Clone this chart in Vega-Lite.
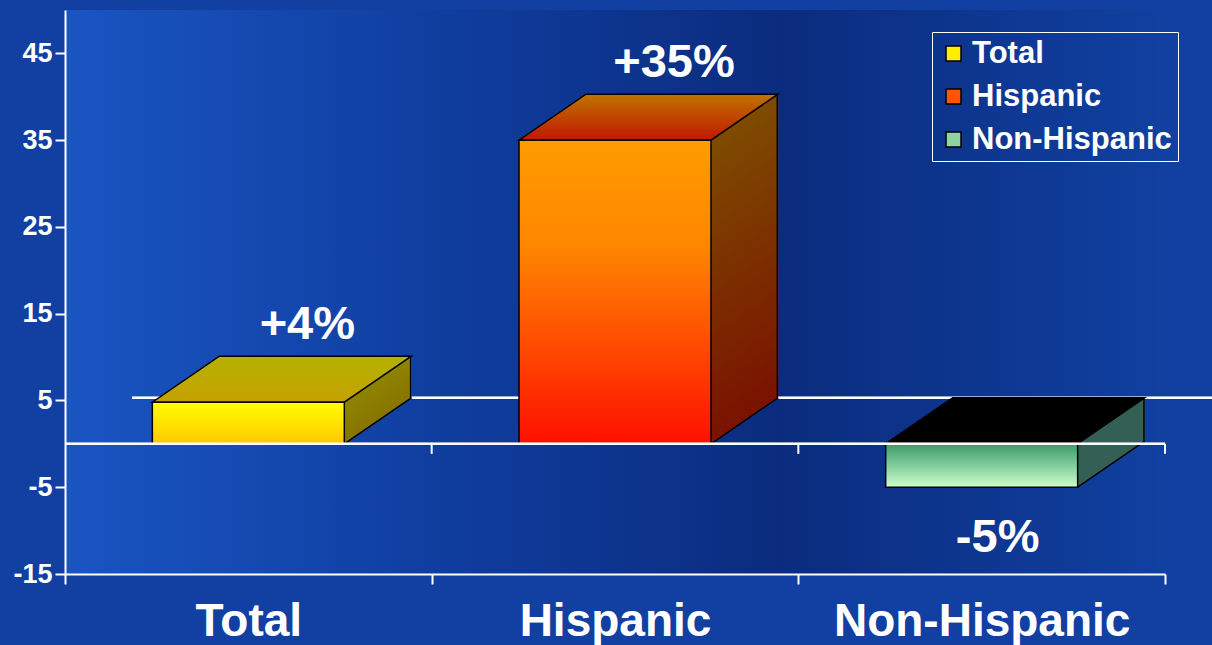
{
  "$schema": "https://vega.github.io/schema/vega-lite/v6.json",
  "width": 1100,
  "height": 564,
  "autosize": {"type": "none"},
  "padding": {"left": 65, "top": 10, "right": 47, "bottom": 71},
  "background": "#113fa2",
  "data": {
    "values": [
      {"group": "Total", "value": 4.8, "label": "+4%"},
      {"group": "Hispanic", "value": 35, "label": "+35%"},
      {"group": "Non-Hispanic", "value": -5, "label": "-5%"}
    ]
  },
  "layer": [
    {
      "mark": {"type": "rule", "color": "white", "strokeWidth": 2, "xOffset": 67, "x2Offset": 67, "yOffset": -46},
      "encoding": {
        "x": {"datum": "Total", "type": "nominal", "bandPosition": 0, "sort": ["Total", "Hispanic", "Non-Hispanic"], "scale": {"paddingInner": 0, "paddingOuter": 0}},
        "x2": {"datum": "Non-Hispanic", "bandPosition": 1},
        "y": {"datum": 0, "type": "quantitative", "scale": {"domain": [-15, 50], "nice": false, "zero": false}}
      }
    },
    {
      "encoding": {
        "x": {"field": "group", "type": "nominal", "sort": ["Total", "Hispanic", "Non-Hispanic"], "scale": {"paddingInner": 0, "paddingOuter": 0}},
        "y": {"field": "value", "type": "quantitative", "scale": {"domain": [-15, 50], "nice": false, "zero": false}},
        "y2": {"datum": 0},
        "fill": {
          "condition": [
            {"test": "datum.group === 'Total'", "value": {"gradient": "linear", "x1": 0, "y1": 0, "x2": 0, "y2": 1, "stops": [{"offset": 0, "color": "#8e8400"}, {"offset": 1, "color": "#877400"}]}},
            {"test": "datum.group === 'Hispanic'", "value": {"gradient": "linear", "x1": 0, "y1": 0, "x2": 0, "y2": 1, "stops": [{"offset": 0, "color": "#7e4b00"}, {"offset": 1, "color": "#7a1200"}]}}
          ],
          "value": "#345f55"
        }
      },
      "layer": [
        {"mark": {"type": "bar", "width": 3.2, "xOffset": 161.7, "yOffset": -45.11, "y2Offset": -45.11}},
        {"mark": {"type": "bar", "width": 3.2, "xOffset": 159.55, "yOffset": -43.63, "y2Offset": -43.63}},
        {"mark": {"type": "bar", "width": 3.2, "xOffset": 157.41, "yOffset": -42.16, "y2Offset": -42.16}},
        {"mark": {"type": "bar", "width": 3.2, "xOffset": 155.26, "yOffset": -40.69, "y2Offset": -40.69}},
        {"mark": {"type": "bar", "width": 3.2, "xOffset": 153.11, "yOffset": -39.21, "y2Offset": -39.21}},
        {"mark": {"type": "bar", "width": 3.2, "xOffset": 150.97, "yOffset": -37.74, "y2Offset": -37.74}},
        {"mark": {"type": "bar", "width": 3.2, "xOffset": 148.82, "yOffset": -36.26, "y2Offset": -36.26}},
        {"mark": {"type": "bar", "width": 3.2, "xOffset": 146.67, "yOffset": -34.79, "y2Offset": -34.79}},
        {"mark": {"type": "bar", "width": 3.2, "xOffset": 144.53, "yOffset": -33.32, "y2Offset": -33.32}},
        {"mark": {"type": "bar", "width": 3.2, "xOffset": 142.38, "yOffset": -31.84, "y2Offset": -31.84}},
        {"mark": {"type": "bar", "width": 3.2, "xOffset": 140.23, "yOffset": -30.37, "y2Offset": -30.37}},
        {"mark": {"type": "bar", "width": 3.2, "xOffset": 138.09, "yOffset": -28.9, "y2Offset": -28.9}},
        {"mark": {"type": "bar", "width": 3.2, "xOffset": 135.94, "yOffset": -27.42, "y2Offset": -27.42}},
        {"mark": {"type": "bar", "width": 3.2, "xOffset": 133.79, "yOffset": -25.95, "y2Offset": -25.95}},
        {"mark": {"type": "bar", "width": 3.2, "xOffset": 131.65, "yOffset": -24.47, "y2Offset": -24.47}},
        {"mark": {"type": "bar", "width": 3.2, "xOffset": 129.5, "yOffset": -23.0, "y2Offset": -23.0}},
        {"mark": {"type": "bar", "width": 3.2, "xOffset": 127.35, "yOffset": -21.53, "y2Offset": -21.53}},
        {"mark": {"type": "bar", "width": 3.2, "xOffset": 125.21, "yOffset": -20.05, "y2Offset": -20.05}},
        {"mark": {"type": "bar", "width": 3.2, "xOffset": 123.06, "yOffset": -18.58, "y2Offset": -18.58}},
        {"mark": {"type": "bar", "width": 3.2, "xOffset": 120.91, "yOffset": -17.1, "y2Offset": -17.1}},
        {"mark": {"type": "bar", "width": 3.2, "xOffset": 118.77, "yOffset": -15.63, "y2Offset": -15.63}},
        {"mark": {"type": "bar", "width": 3.2, "xOffset": 116.62, "yOffset": -14.16, "y2Offset": -14.16}},
        {"mark": {"type": "bar", "width": 3.2, "xOffset": 114.47, "yOffset": -12.68, "y2Offset": -12.68}},
        {"mark": {"type": "bar", "width": 3.2, "xOffset": 112.33, "yOffset": -11.21, "y2Offset": -11.21}},
        {"mark": {"type": "bar", "width": 3.2, "xOffset": 110.18, "yOffset": -9.74, "y2Offset": -9.74}},
        {"mark": {"type": "bar", "width": 3.2, "xOffset": 108.03, "yOffset": -8.26, "y2Offset": -8.26}},
        {"mark": {"type": "bar", "width": 3.2, "xOffset": 105.89, "yOffset": -6.79, "y2Offset": -6.79}},
        {"mark": {"type": "bar", "width": 3.2, "xOffset": 103.74, "yOffset": -5.31, "y2Offset": -5.31}},
        {"mark": {"type": "bar", "width": 3.2, "xOffset": 101.59, "yOffset": -3.84, "y2Offset": -3.84}},
        {"mark": {"type": "bar", "width": 3.2, "xOffset": 99.45, "yOffset": -2.37, "y2Offset": -2.37}},
        {"mark": {"type": "bar", "width": 3.2, "xOffset": 97.3, "yOffset": -0.89, "y2Offset": -0.89}},
        {"mark": {"type": "bar", "width": 1.5, "xOffset": 162.3, "yOffset": -45.6, "y2Offset": -45.6, "fill": "black"}, "encoding": {"fill": {"value": "black"}}}
      ]
    },
    {
      "transform": [{"filter": "datum.value > 0"}],
      "mark": {"type": "point", "shape": "M0.96,0L1.63,-0.46", "size": 40000, "filled": false, "stroke": "black", "strokeWidth": 1.5, "opacity": 1},
      "encoding": {
        "x": {"field": "group", "type": "nominal", "sort": ["Total", "Hispanic", "Non-Hispanic"]},
        "y": {"datum": 0, "type": "quantitative"}
      }
    },
    {
      "transform": [{"filter": "datum.value < 0"}],
      "mark": {"type": "point", "shape": "M0.96,0L1.63,-0.46", "size": 40000, "filled": false, "stroke": "black", "strokeWidth": 1.5, "opacity": 1},
      "encoding": {
        "x": {"field": "group", "type": "nominal", "sort": ["Total", "Hispanic", "Non-Hispanic"]},
        "y": {"field": "value", "type": "quantitative"}
      }
    },
    {
      "transform": [{"filter": "datum.value > 0"}],
      "mark": {"type": "point", "shape": "M-0.96,0L0.96,0L1.63,-0.46L-0.29,-0.46Z", "size": 40000, "filled": true, "stroke": "black", "strokeWidth": 1.5, "opacity": 1, "fillOpacity": 1},
      "encoding": {
        "x": {"field": "group", "type": "nominal", "sort": ["Total", "Hispanic", "Non-Hispanic"]},
        "y": {"field": "value", "type": "quantitative"},
        "fill": {
          "condition": [
            {"test": "datum.group === 'Total'", "value": {"gradient": "linear", "x1": 0, "y1": 0, "x2": 0, "y2": 1, "stops": [{"offset": 0, "color": "#b4b200"}, {"offset": 1, "color": "#c6a000"}]}}
          ],
          "value": {"gradient": "linear", "x1": 0, "y1": 0, "x2": 0, "y2": 1, "stops": [{"offset": 0, "color": "#c07400"}, {"offset": 1, "color": "#c01800"}]}
        }
      }
    },
    {
      "transform": [{"filter": "datum.value < 0"}],
      "mark": {"type": "point", "shape": "M-0.96,0L0.96,0L1.63,-0.46L-0.29,-0.46Z", "size": 40000, "filled": true, "fill": "black", "stroke": "black", "strokeWidth": 1.5, "opacity": 1, "fillOpacity": 1},
      "encoding": {
        "x": {"field": "group", "type": "nominal", "sort": ["Total", "Hispanic", "Non-Hispanic"]},
        "y": {"datum": 0, "type": "quantitative"}
      }
    },
    {
      "mark": {"type": "bar", "width": {"band": 0.5236}},
      "encoding": {
        "x": {
          "field": "group", "type": "nominal", "sort": ["Total", "Hispanic", "Non-Hispanic"],
          "axis": {"title": null, "labelAngle": 0, "labelFontSize": 46, "labelPadding": 37, "labelLimit": 0, "labelAlign": "center", "tickBand": "extent", "labelColor": "white"}
        },
        "y": {
          "field": "value", "type": "quantitative",
          "axis": {"title": null, "values": [-15, -5, 5, 15, 25, 35, 45], "labelExpr": "'' + datum.value", "labelFontSize": 27, "labelPadding": 3}
        },
        "y2": {"datum": 0},
        "fill": {
          "field": "group", "type": "nominal",
          "scale": {"domain": ["Total", "Hispanic", "Non-Hispanic"], "range": ["#ffee00", "#ff5500", "#8fd4a0"]},
          "legend": {
            "orient": "none", "legendX": 867, "legendY": 22, "title": null,
            "strokeColor": "white", "padding": 6,
            "labelFont": "Liberation Sans", "labelFontSize": 31, "labelFontWeight": "bold", "labelColor": "white", "labelLimit": 0,
            "symbolType": "square", "symbolSize": 225, "symbolStrokeColor": "black", "symbolStrokeWidth": 1.5,
            "labelOffset": 3, "rowPadding": 11
          }
        }
      }
    },
    {
      "mark": {"type": "bar", "width": {"band": 0.5236}, "stroke": "black", "strokeWidth": 1.5},
      "encoding": {
        "x": {"field": "group", "type": "nominal", "sort": ["Total", "Hispanic", "Non-Hispanic"]},
        "y": {"field": "value", "type": "quantitative"},
        "y2": {"datum": 0},
        "fill": {
          "condition": [
            {"test": "datum.group === 'Total'", "value": {"gradient": "linear", "x1": 0, "y1": 0, "x2": 0, "y2": 1, "stops": [{"offset": 0, "color": "#ffff00"}, {"offset": 1, "color": "#ffc800"}]}},
            {"test": "datum.group === 'Hispanic'", "value": {"gradient": "linear", "x1": 0, "y1": 0, "x2": 0, "y2": 1, "stops": [{"offset": 0, "color": "#ff9c00"}, {"offset": 0.35, "color": "#ff8600"}, {"offset": 1, "color": "#ff1000"}]}}
          ],
          "value": {"gradient": "linear", "x1": 0, "y1": 0, "x2": 0, "y2": 1, "stops": [{"offset": 0, "color": "#3a9a6a"}, {"offset": 1, "color": "#ccffcc"}]}
        }
      }
    },
    {
      "mark": {"type": "rule", "color": "white", "strokeWidth": 2},
      "encoding": {"y": {"datum": 0, "type": "quantitative"}}
    },
    {
      "mark": {"type": "point", "shape": "M0,0L0,1", "size": 400, "filled": false, "stroke": "white", "strokeWidth": 2, "opacity": 1},
      "encoding": {
        "x": {"field": "group", "type": "nominal", "sort": ["Total", "Hispanic", "Non-Hispanic"], "bandPosition": 1},
        "y": {"datum": 0, "type": "quantitative"}
      }
    },
    {
      "transform": [{"filter": "datum.value > 0"}],
      "mark": {"type": "text", "font": "Liberation Sans", "fontWeight": "bold", "fontSize": 47, "color": "white", "baseline": "alphabetic", "dx": 59, "dy": -63},
      "encoding": {
        "x": {"field": "group", "type": "nominal", "sort": ["Total", "Hispanic", "Non-Hispanic"]},
        "y": {"field": "value", "type": "quantitative"},
        "text": {"field": "label"}
      }
    },
    {
      "transform": [{"filter": "datum.value < 0"}],
      "mark": {"type": "text", "font": "Liberation Sans", "fontWeight": "bold", "fontSize": 47, "color": "white", "baseline": "alphabetic", "dx": 16, "dy": 64.5},
      "encoding": {
        "x": {"field": "group", "type": "nominal", "sort": ["Total", "Hispanic", "Non-Hispanic"]},
        "y": {"field": "value", "type": "quantitative"},
        "text": {"field": "label"}
      }
    }
  ],
  "config": {
    "view": {
      "stroke": null,
      "fill": {"gradient": "linear", "x1": 0, "y1": 0.5, "x2": 1, "y2": 0.5, "stops": [{"offset": 0, "color": "#1a55c2"}, {"offset": 0.35, "color": "#0f3d9e"}, {"offset": 0.65, "color": "#0b2c7e"}, {"offset": 1, "color": "#1040a0"}]}
    },
    "axis": {
      "labelColor": "white", "labelFont": "Liberation Sans", "labelFontWeight": "bold",
      "domainColor": "white", "domainWidth": 2, "tickColor": "white", "tickWidth": 2, "tickSize": 10,
      "grid": false, "title": null
    }
  }
}
